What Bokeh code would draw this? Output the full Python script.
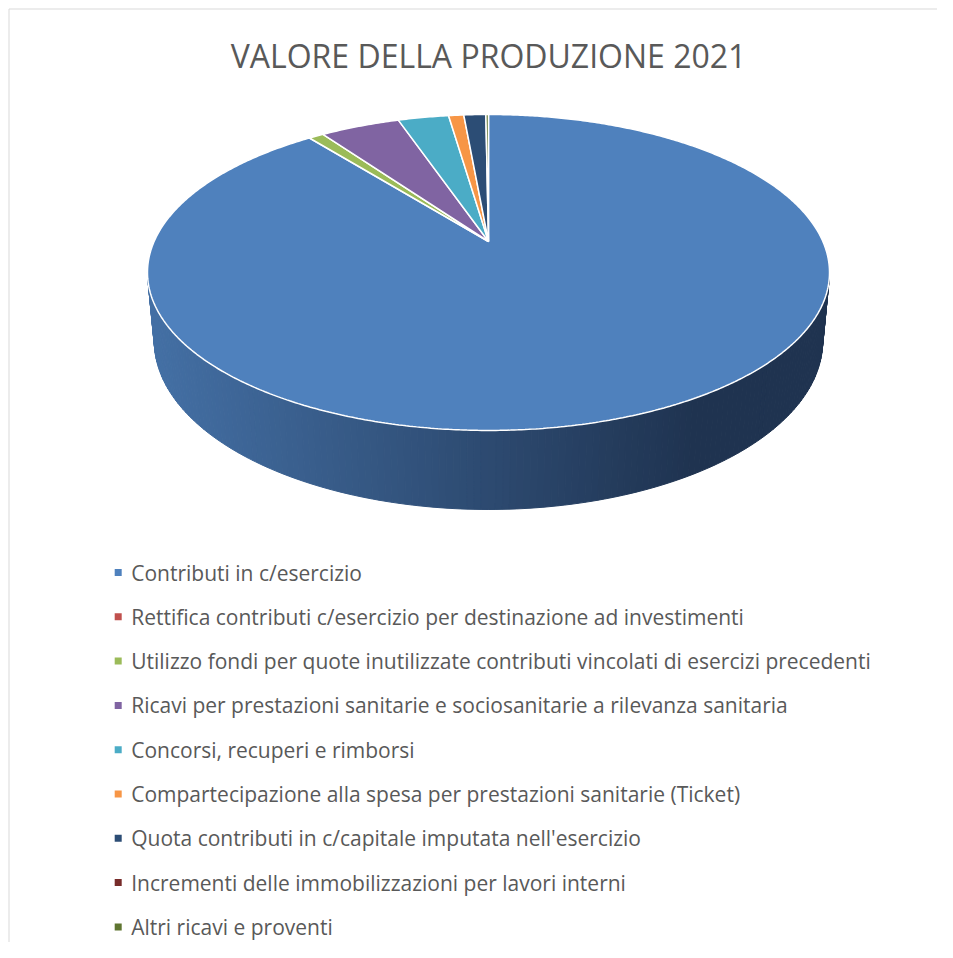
import numpy as np
from bokeh.plotting import figure
from bokeh.models import Range1d
from bokeh.core.properties import value
from bokeh.embed import file_html
from bokeh.resources import INLINE

# ---------------- data ----------------
title_text = "VALORE DELLA PRODUZIONE 2021"
categories = [
    "Contributi in c/esercizio",
    "Rettifica contributi c/esercizio per destinazione ad investimenti",
    "Utilizzo fondi per quote inutilizzate contributi vincolati di esercizi precedenti",
    "Ricavi per prestazioni sanitarie e sociosanitarie a rilevanza sanitaria",
    "Concorsi, recuperi e rimborsi",
    "Compartecipazione alla spesa per prestazioni sanitarie (Ticket)",
    "Quota contributi in c/capitale imputata nell'esercizio",
    "Incrementi delle immobilizzazioni per lavori interni",
    "Altri ricavi e proventi",
]
shares = [89.40, 0.0, 0.86, 4.56, 2.90, 0.87, 1.26, 0.0, 0.15]
colors = ["#4F81BD", "#C0504D", "#9BBB59", "#8064A2", "#4BACC6",
          "#F79646", "#2C4D75", "#772C2A", "#5F7530"]

# ---------------- geometry (pixels) ----------------
CX, CY = 488.0, 241.0
A, B = 334.4, 151.9
K = 0.196
S_BOT = 0.98
T = 66.6
FONT = "Open Sans"
TXT = "#595959"


def top_pt(th):
    X, Y = np.cos(th), np.sin(th)
    d = 1 + K * Y
    return CX + A * X / d, CY - B * Y / d


def bot_pt(th):
    X, Y = np.cos(th), np.sin(th)
    d = 1 + K * Y
    return CX + S_BOT * A * X / d, CY + (-S_BOT * B * Y + T) / d


W, H = 937, 942
p = figure(width=W, height=H, output_backend="svg", toolbar_location=None,
           x_range=Range1d(0, W), y_range=Range1d(H, 0),
           x_axis_type=None, y_axis_type=None, min_border=0)
p.grid.visible = False
p.outline_line_color = None
p.background_fill_color = "white"

# chart-area border (left and top edges visible in the reference)
p.line(x=[8.5, 8.5, W], y=[H, 8.5, 8.5], line_color="#d9d9d9", line_width=1)

# ---------------- side of the disc (gradient) ----------------
a0 = np.pi + np.arcsin(K)
a1 = 2 * np.pi - np.arcsin(K)
N = 160
ths = np.linspace(a0, a1, N + 1)
c_left = np.array([68, 112, 165])
c_right = np.array([31, 51, 80])
sx, sy, sc = [], [], []
for i in range(N):
    t0, t1 = ths[i], ths[i + 1]
    x0, y0 = top_pt(t0)
    x1, y1 = top_pt(t1)
    bx0, by0 = bot_pt(t0)
    bx1, by1 = bot_pt(t1)
    sx.append([x0, x1, bx1, bx0])
    sy.append([y0, y1, by1, by0])
    xm = (x0 + x1) / 2
    f = min(max((xm - 150) / (700 - 150), 0), 1)
    c = (c_left + (c_right - c_left) * f).astype(int)
    sc.append("#%02x%02x%02x" % tuple(c))
p.patches(sx, sy, fill_color=sc, line_color=sc, line_width=1)

# ---------------- top slices ----------------
total = sum(shares)
start = np.pi / 2
xs, ys, fc = [], [], []
for v, col in zip(shares, colors):
    span = v / total * 2 * np.pi
    if span <= 0:
        continue
    end = start - span
    n = max(int(span / (2 * np.pi) * 720), 3)
    tt = np.linspace(start, end, n)
    px, py = top_pt(tt)
    xs.append([CX] + list(px))
    ys.append([CY] + list(py))
    fc.append(col)
    start = end
p.patches(xs, ys, fill_color=fc, line_color="white", line_width=1.5)

# ---------------- title ----------------
p.text(x=[488], y=[55], text=[title_text], text_font=value(FONT),
       text_font_size="32px", text_color=TXT, text_align="center",
       text_baseline="middle")

# ---------------- legend ----------------
row0 = 572.0
step = 44.3
ly = [row0 + i * step for i in range(len(categories))]
p.scatter(x=[117.7] * len(categories), y=ly, marker="square",
          size=7, fill_color=colors, line_color=None)
p.text(x=[130.7] * len(categories), y=ly, text=categories, text_font=value(FONT),
       text_font_size="21px", text_color=TXT, text_align="left",
       text_baseline="middle")

open("out.html", "w").write(file_html(p, INLINE))
